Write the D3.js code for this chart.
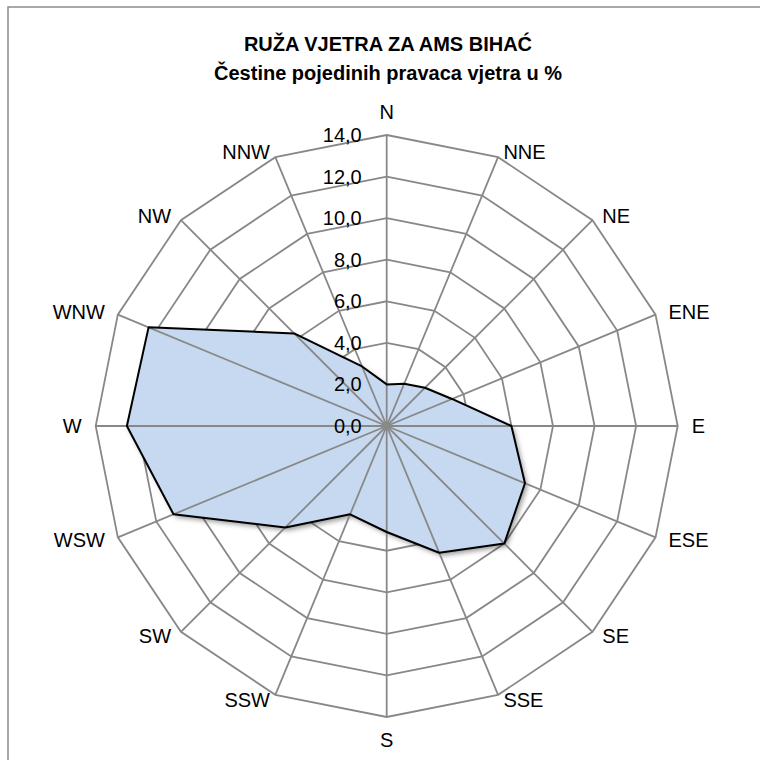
<!DOCTYPE html>
<html>
<head>
<meta charset="utf-8">
<script src="https://cdnjs.cloudflare.com/ajax/libs/d3/7.8.5/d3.min.js"></script>
<style>
	body { margin: 0; background: #fff; }
	text { font-family: "Liberation Sans", Arial, sans-serif; fill: #000; }
</style>
</head>
<body>
<div id="chart"></div>
<script>

// directions, clockwise from north
var directions = ["N", "NNE", "NE", "ENE", "E", "ESE", "SE", "SSE",
	"S", "SSW", "SW", "WSW", "W", "WNW", "NW", "NNW"];

// frequency of each direction in %
var frequencies = [2.0, 2.2, 2.6, 3.4, 6.0, 7.2, 8.0, 6.6,
	5.1, 4.6, 6.9, 11.1, 12.5, 12.4, 6.3, 3.1];

var ticks = [0, 2, 4, 6, 8, 10, 12, 14];

var titleLines = ["RUŽA VJETRA ZA AMS BIHAĆ", "Čestine pojedinih pravaca vjetra u %"];

var width = 760,
	height = 760,
	cx = 386.7,
	cy = 426,
	radius = 291;

var r = d3.scaleLinear().domain([0, 14]).range([0, radius]);
var angle = d3.scaleLinear().domain([0, directions.length]).range([0, 2 * Math.PI]);

var fmt = function(d) { return d3.format(".1f")(d).replace(".", ","); };

var svg = d3.select("#chart").append("svg")
	.attr("width", width)
	.attr("height", height);

var defs = svg.append("defs");
defs.append("filter")
	.attr("id", "shadow")
	.attr("x", "-10%").attr("y", "-10%")
	.attr("width", "130%").attr("height", "130%")
  .append("feDropShadow")
	.attr("dx", 2.5)
	.attr("dy", 3)
	.attr("stdDeviation", 2.5)
	.attr("flood-color", "#000")
	.attr("flood-opacity", 0.4);

// outer frame
svg.append("rect")
	.attr("x", 8)
	.attr("y", 7)
	.attr("width", 800)
	.attr("height", 800)
	.attr("fill", "none")
	.attr("stroke", "#8c8c8c")
	.attr("stroke-width", 1.5);

// title
svg.append("g")
	.selectAll("text")
	.data(titleLines)
	.enter().append("text")
	.attr("x", 388)
	.attr("y", function(d, i) { return 51 + i * 29; })
	.attr("text-anchor", "middle")
	.style("font-size", "20px")
	.style("font-weight", "bold")
	.text(function(d) { return d; });

var g = svg.append("g")
	.attr("transform", "translate(" + cx + "," + cy + ")");

var radial = d3.lineRadial()
	.angle(function(d, i) { return angle(i); })
	.radius(function(d) { return r(d); })
	.curve(d3.curveLinearClosed);

// rings
g.append("g")
	.selectAll("path")
	.data(ticks.slice(1))
	.enter().append("path")
	.attr("d", function(t) { return radial(directions.map(function() { return t; })); })
	.attr("fill", "none")
	.attr("stroke", "#888")
	.attr("stroke-width", 1.8);

// data area
g.append("path")
	.datum(frequencies)
	.attr("d", radial)
	.attr("fill", "#c6d9f0")
	.attr("filter", "url(#shadow)");

// spokes
g.append("g")
	.selectAll("line")
	.data(directions)
	.enter().append("line")
	.attr("x1", 0).attr("y1", 0)
	.attr("x2", function(d, i) { return r(14) * Math.sin(angle(i)); })
	.attr("y2", function(d, i) { return -r(14) * Math.cos(angle(i)); })
	.attr("stroke", "#888")
	.attr("stroke-width", 1.8);

g.append("circle")
	.attr("r", 4)
	.attr("fill", "#888");

// data outline
g.append("path")
	.datum(frequencies)
	.attr("d", radial)
	.attr("fill", "none")
	.attr("stroke", "#000")
	.attr("stroke-width", 2)
	.attr("stroke-linejoin", "round");

// tick labels
g.append("g")
	.selectAll("text")
	.data(ticks)
	.enter().append("text")
	.attr("x", -25)
	.attr("y", function(d) { return -r(d); })
	.attr("dy", "0.35em")
	.attr("text-anchor", "end")
	.style("font-size", "20px")
	.text(fmt);

// direction labels
var gap = 14;
g.append("g")
	.selectAll("text")
	.data(directions)
	.enter().append("text")
	.each(function(d, i) {
		var a = angle(i),
			s = Math.sin(a),
			c = Math.cos(a);
		if (Math.abs(s) < 1e-6) s = 0;
		if (Math.abs(c) < 1e-6) c = 0;
		var x = (r(14) + gap) * s,
			y = -(r(14) + 6) * c;
		if (s === 0) y = -(r(14) + gap + 9) * c;
		d3.select(this)
			.attr("x", x)
			.attr("y", y)
			.attr("dy", "0.35em")
			.attr("text-anchor", s > 0 ? "start" : (s < 0 ? "end" : "middle"));
	})
	.style("font-size", "20px")
	.text(function(d) { return d; });

</script>
</body>
</html>
